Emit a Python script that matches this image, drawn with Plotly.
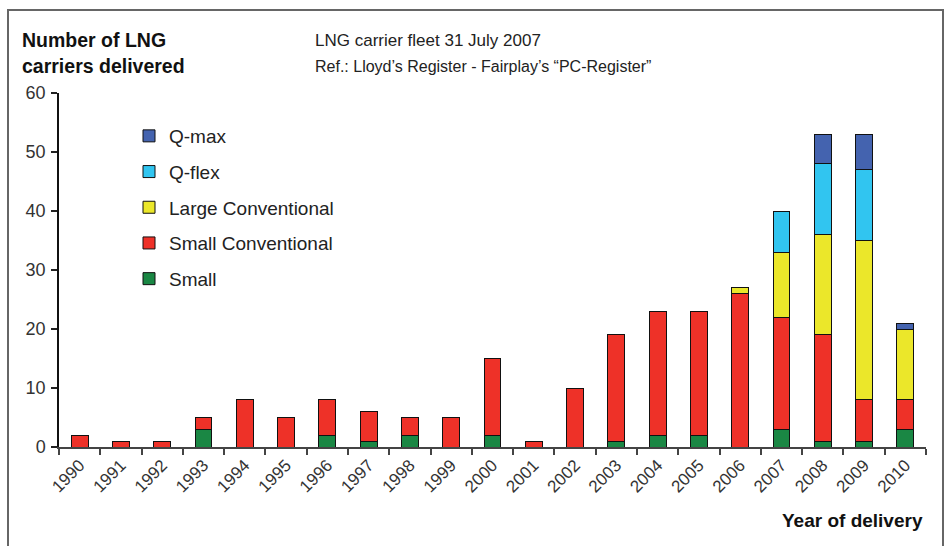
import plotly.graph_objects as go

years = [str(y) for y in range(1990, 2011)]
small = [0, 0, 0, 3, 0, 0, 2, 1, 2, 0, 2, 0, 0, 1, 2, 2, 0, 3, 1, 1, 3]
small_conventional = [2, 1, 1, 2, 8, 5, 6, 5, 3, 5, 13, 1, 10, 18, 21, 21, 26, 19, 18, 7, 5]
large_conventional = [0, 0, 0, 0, 0, 0, 0, 0, 0, 0, 0, 0, 0, 0, 0, 0, 1, 11, 17, 27, 12]
q_flex = [0, 0, 0, 0, 0, 0, 0, 0, 0, 0, 0, 0, 0, 0, 0, 0, 0, 7, 12, 12, 0]
q_max = [0, 0, 0, 0, 0, 0, 0, 0, 0, 0, 0, 0, 0, 0, 0, 0, 0, 0, 5, 6, 1]
y_ticks = [0, 10, 20, 30, 40, 50, 60]

series = [
    ("Small", small, "#1A8744"),
    ("Small Conventional", small_conventional, "#EE3128"),
    ("Large Conventional", large_conventional, "#EBE72A"),
    ("Q-flex", q_flex, "#31C5F0"),
    ("Q-max", q_max, "#4463AF"),
]

FONT = "Liberation Sans, Arial, Helvetica, sans-serif"

fig = go.Figure()
n = len(series)
for i, (name, vals, col) in enumerate(series):
    fig.add_trace(go.Bar(
        x=years, y=vals, name=name, legendgroup=name, legendrank=n - i,
        marker=dict(color=col, line=dict(color="#111111", width=1)),
    ))

W, H = 950, 546
L, R, T, B = 59, 24, 93, 99
pw, ph = W - L - R, H - T - B

def px(x):
    return (x - L) / pw

def py(y):
    return (H - B - y) / ph

fig.update_layout(
    width=W, height=H,
    margin=dict(l=L, r=R, t=T, b=B),
    barmode="stack",
    bargap=0.59,
    plot_bgcolor="white",
    paper_bgcolor="white",
    font=dict(family=FONT, size=18, color="#222222"),
    showlegend=True,
    legend=dict(
        x=px(129), y=py(117), xanchor="left", yanchor="top",
        traceorder="grouped", tracegroupgap=8,
        font=dict(size=19, color="#222222"),
        bgcolor="rgba(0,0,0,0)",
    ),
    xaxis=dict(
        type="category", tickson="boundaries", ticks="outside", ticklen=6,
        tickcolor="#444444", tickwidth=1.5,
        showline=True, linecolor="#444444", linewidth=1.5,
        tickangle=-45, tickfont=dict(size=17, color="#333333"),
        showgrid=False, zeroline=False,
    ),
    yaxis=dict(
        range=[0, 60], tickvals=y_ticks, ticks="outside", ticklen=6,
        tickcolor="#222222", tickwidth=1.5,
        showline=True, linecolor="#111111", linewidth=1.5,
        tickfont=dict(size=18, color="#333333"), ticklabelstandoff=2,
        showgrid=False, zeroline=False,
    ),
    shapes=[dict(
        type="rect", xref="paper", yref="paper",
        x0=px(8), x1=px(943), y0=py(560), y1=py(10),
        line=dict(color="#666666", width=2), fillcolor="rgba(0,0,0,0)",
    )],
    annotations=[
        dict(text="<b>Number of LNG</b>", x=px(20), y=py(40), xref="paper", yref="paper",
             xanchor="left", yanchor="middle", showarrow=False, font=dict(size=19.5, color="#111111")),
        dict(text="<b>carriers delivered</b>", x=px(20), y=py(66), xref="paper", yref="paper",
             xanchor="left", yanchor="middle", showarrow=False, font=dict(size=19.5, color="#111111")),
        dict(text="LNG carrier fleet 31 July 2007", x=px(313), y=py(40), xref="paper", yref="paper",
             xanchor="left", yanchor="middle", showarrow=False, font=dict(size=17, color="#222222")),
        dict(text="Ref.: Lloyd’s Register - Fairplay’s “PC-Register”", x=px(313), y=py(66),
             xref="paper", yref="paper", xanchor="left", yanchor="middle", showarrow=False,
             font=dict(size=16, color="#222222")),
        dict(text="<b>Year of delivery</b>", x=px(925), y=py(520), xref="paper", yref="paper",
             xanchor="right", yanchor="middle", showarrow=False, font=dict(size=19, color="#111111")),
    ],
)

fig.write_html("out.html", config={"displayModeBar": False},
               post_script="document.body.style.margin='0px';")
